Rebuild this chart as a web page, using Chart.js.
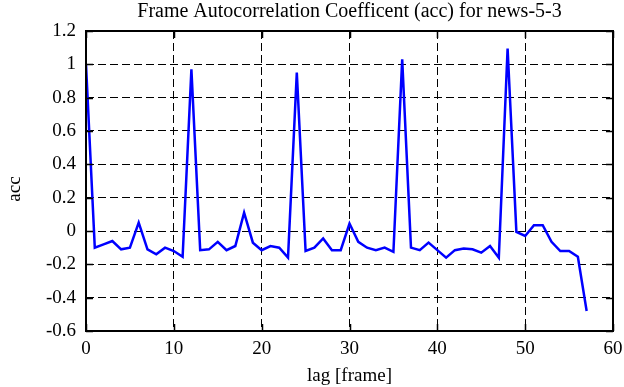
<!DOCTYPE html>
<html>
<head>
<meta charset="utf-8">
<script src="https://cdn.jsdelivr.net/npm/chart.js@4/dist/chart.umd.min.js"></script>
<style>
  body { margin: 0; background: #fff; }
  #wrap { width: 624px; height: 387px; }
</style>
</head>
<body>
<div id="wrap"><canvas id="accChart" width="624" height="387"></canvas></div>
<script>
// lag in frames, autocorrelation
var lags = [0, 1, 2, 3, 4, 5, 6, 7, 8, 9, 10, 11, 12, 13, 14, 15, 16, 17, 18, 19,
            20, 21, 22, 23, 24, 25, 26, 27, 28, 29, 30, 31, 32, 33, 34, 35, 36, 37, 38, 39,
            40, 41, 42, 43, 44, 45, 46, 47, 48, 49, 50, 51, 52, 53, 54, 55, 56, 57];
var acc = [1.0, -0.10, -0.08, -0.06, -0.11, -0.10, 0.05, -0.11, -0.14, -0.10,
           -0.12, -0.155, 0.97, -0.115, -0.11, -0.065, -0.115, -0.09, 0.11, -0.07,
           -0.115, -0.09, -0.10, -0.16, 0.95, -0.12, -0.10, -0.045, -0.115, -0.115,
           0.045, -0.065, -0.10, -0.115, -0.10, -0.125, 1.03, -0.10, -0.115, -0.07,
           -0.115, -0.16, -0.115, -0.105, -0.11, -0.13, -0.09, -0.16, 1.095, -0.005,
           -0.03, 0.035, 0.035, -0.065, -0.12, -0.12, -0.155, -0.48];
var xTicks = [0, 10, 20, 30, 40, 50, 60];
var yTicks = [-0.6, -0.4, -0.2, 0, 0.2, 0.4, 0.6, 0.8, 1, 1.2];

var serif = "'Liberation Serif', 'DejaVu Serif', serif";

// frame + inward ticks on all four sides, y label drawn by hand
var framePlugin = {
    id: 'frame',
    afterDraw: function (chart) {
        var c = chart.ctx, a = chart.chartArea;
        var xs = chart.scales.x, ys = chart.scales.y;
        c.save();
        c.strokeStyle = '#000';
        c.lineWidth = 1.5;
        c.setLineDash([]);
        c.beginPath();
        xTicks.forEach(function (v) {
            var px = Math.round(xs.getPixelForValue(v)) + 0.5;
            c.moveTo(px, a.bottom); c.lineTo(px, a.bottom - 7);
            c.moveTo(px, a.top); c.lineTo(px, a.top + 7);
        });
        yTicks.forEach(function (v) {
            var py = Math.round(ys.getPixelForValue(v)) + 0.5;
            c.moveTo(a.left, py); c.lineTo(a.left + 7, py);
            c.moveTo(a.right, py); c.lineTo(a.right - 7, py);
        });
        c.stroke();
        c.lineWidth = 2;
        c.strokeRect(a.left, a.top, a.right - a.left, a.bottom - a.top);

        c.fillStyle = '#000';
        c.font = '19px ' + serif;
        c.textAlign = 'center';
        c.textBaseline = 'middle';
        c.translate(15, 189);
        c.rotate(-Math.PI / 2);
        c.fillText('acc', 0, 0);
        c.restore();
    }
};

var points = lags.map(function (l, i) { return { x: l, y: acc[i] }; });

new Chart(document.getElementById('accChart').getContext('2d'), {
    type: 'line',
    data: {
        datasets: [{
            data: points,
            borderColor: '#0000ff',
            borderWidth: 2.5,
            pointRadius: 0,
            tension: 0,
            fill: false
        }]
    },
    options: {
        responsive: false,
        animation: false,
        layout: { padding: { top: 0, right: 11, bottom: 0, left: 0 } },
        plugins: {
            legend: { display: false },
            tooltip: { enabled: false },
            title: {
                display: true,
                fullSize: false,
                text: 'Frame Autocorrelation Coefficent (acc) for news-5-3',
                color: '#000',
                font: { family: serif, size: 20, weight: 'normal' },
                padding: { top: 0, bottom: 7 }
            }
        },
        scales: {
            x: {
                type: 'linear',
                min: 0,
                max: 60,
                afterBuildTicks: function (s) { s.ticks = xTicks.map(function (v) { return { value: v }; }); },
                afterFit: function (s) { s.height = 56; s.paddingLeft = 0; s.paddingRight = 0; },
                ticks: { color: '#000', font: { family: serif, size: 19 }, padding: 7, maxRotation: 0 },
                grid: { color: '#000', lineWidth: 1, drawTicks: false },
                border: { display: false, dash: [8, 4] },
                title: { display: true, text: 'lag [frame]', color: '#000', font: { family: serif, size: 19 }, padding: { top: 0, bottom: 0 } }
            },
            y: {
                min: -0.6,
                max: 1.2,
                afterBuildTicks: function (s) { s.ticks = yTicks.map(function (v) { return { value: v }; }); },
                afterFit: function (s) { s.width = 86; s.paddingTop = 0; s.paddingBottom = 0; },
                ticks: {
                    color: '#000',
                    font: { family: serif, size: 19 },
                    padding: 10,
                    callback: function (v) { return Math.abs(v) < 1e-9 ? '0' : String(Math.round(v * 10) / 10); }
                },
                grid: { color: '#000', lineWidth: 1, drawTicks: false },
                border: { display: false, dash: [8, 4] }
            }
        }
    },
    plugins: [framePlugin]
});
</script>
</body>
</html>
